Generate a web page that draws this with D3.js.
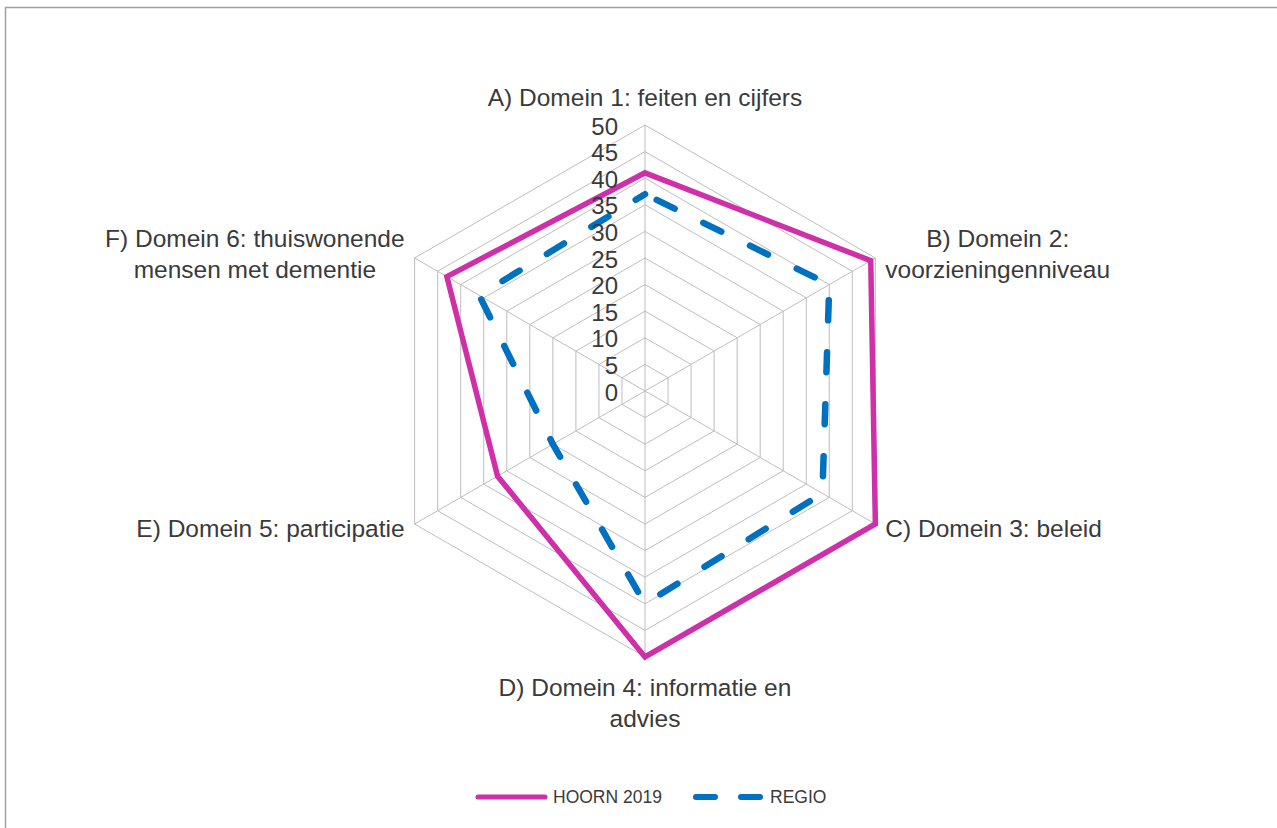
<!DOCTYPE html>
<html>
<head>
<meta charset="utf-8">
<script src="https://cdn.jsdelivr.net/npm/d3@7"></script>
<style>
  body { margin: 0; background: #fff; }
  svg { display: block; }
  text { font-family: "Liberation Sans", Arial, sans-serif; fill: #3a3a3a; }
</style>
</head>
<body>
<svg id="chart" width="1277" height="828"></svg>
<script>
// data
var categories = [
  ["A) Domein 1: feiten en cijfers"],
  ["B) Domein 2:", "voorzieningenniveau"],
  ["C) Domein 3: beleid"],
  ["D) Domein 4: informatie en", "advies"],
  ["E) Domein 5: participatie"],
  ["F) Domein 6: thuiswonende", "mensen met dementie"]
];
var hoorn = [41, 49, 50, 50, 32, 43];
var regio = [37, 40, 38.5, 40, 20, 36];
var tickValues = [0, 5, 10, 15, 20, 25, 30, 35, 40, 45, 50];
var seriesNames = ["HOORN 2019", "REGIO"];

var cx = 645, cy = 391, R = 266;
var magenta = "#CF2FA9", blue = "#0070C0";

var svg = d3.select("#chart");

// frame (only top and left edge visible in the original)
svg.append("rect")
  .attr("x", 5.5).attr("y", 7.5)
  .attr("width", 1300).attr("height", 900)
  .attr("fill", "none")
  .attr("stroke", "#a0a0a0")
  .attr("stroke-width", 1.5);

var r = d3.scaleLinear().domain([0, 50]).range([0, R]);
var n = categories.length;
var angle = function (i) { return i * 2 * Math.PI / n; };
var px = function (i, v) { return cx + r(v) * Math.sin(angle(i)); };
var py = function (i, v) { return cy - r(v) * Math.cos(angle(i)); };

var g = svg.append("g");

// grid rings
var ring = d3.lineRadial()
  .angle(function (d, i) { return angle(i); })
  .radius(function (d) { return r(d); })
  .curve(d3.curveLinearClosed);

g.selectAll(".ring")
  .data(tickValues.slice(1))
  .enter().append("path")
  .attr("class", "ring")
  .attr("transform", "translate(" + cx + "," + cy + ")")
  .attr("d", function (t) { return ring(d3.range(n).map(function () { return t; })); })
  .attr("fill", "none")
  .attr("stroke", "#bdbdbd")
  .attr("stroke-width", 1);

// spokes
g.selectAll(".spoke")
  .data(d3.range(n))
  .enter().append("line")
  .attr("x1", cx).attr("y1", cy)
  .attr("x2", function (i) { return px(i, 50); })
  .attr("y2", function (i) { return py(i, 50); })
  .attr("stroke", "#bdbdbd")
  .attr("stroke-width", 1);

// series
var seriesLine = d3.lineRadial()
  .angle(function (d, i) { return angle(i); })
  .radius(function (d) { return r(d); })
  .curve(d3.curveLinearClosed);

g.append("path")
  .attr("transform", "translate(" + cx + "," + cy + ")")
  .attr("d", seriesLine(regio))
  .attr("fill", "none")
  .attr("stroke", blue)
  .attr("stroke-width", 6.5)
  .attr("stroke-linecap", "round")
  .attr("stroke-linejoin", "round")
  .attr("stroke-dasharray", "20 32")
  .attr("stroke-dashoffset", 39);

g.append("path")
  .attr("transform", "translate(" + cx + "," + cy + ")")
  .attr("d", seriesLine(hoorn))
  .attr("fill", "none")
  .attr("stroke", magenta)
  .attr("stroke-width", 5.5)
  .attr("stroke-linejoin", "miter");

// tick labels
g.selectAll(".tick")
  .data(tickValues)
  .enter().append("text")
  .attr("x", cx - 27)
  .attr("y", function (t) { return cy - r(t) + 9.5; })
  .attr("text-anchor", "end")
  .style("font-size", "24px")
  .text(function (t) { return t; });

// category labels
var lineH = 31;
categories.forEach(function (lines, i) {
  var s = Math.sin(angle(i)), c = Math.cos(angle(i));
  var vx = px(i, 50), vy = py(i, 50);
  var lab = g.append("g");
  var texts = lines.map(function (l) {
    return lab.append("text").style("font-size", "24.5px").text(l);
  });
  var widths = texts.map(function (t) { return t.node().getComputedTextLength(); });
  var blockW = d3.max(widths);
  var firstY, centerX;
  if (Math.abs(s) < 0.1) {
    centerX = vx;
    if (c > 0) firstY = vy - 19 - (lines.length - 1) * lineH;
    else firstY = vy + 39;
  } else {
    centerX = s > 0 ? vx + 10 + blockW / 2 : vx - 10 - blockW / 2;
    firstY = vy + 13 - (lines.length - 1) * 24;
  }
  texts.forEach(function (t, k) {
    t.attr("x", centerX).attr("y", firstY + k * lineH).attr("text-anchor", "middle");
  });
});

// legend
var leg = svg.append("g");
leg.append("line")
  .attr("x1", 478).attr("x2", 545).attr("y1", 797).attr("y2", 797)
  .attr("stroke", magenta).attr("stroke-width", 5).attr("stroke-linecap", "round");
leg.append("text").attr("x", 553).attr("y", 803).style("font-size", "17.5px").text(seriesNames[0]);
leg.append("line")
  .attr("x1", 696).attr("x2", 761).attr("y1", 797).attr("y2", 797)
  .attr("stroke", blue).attr("stroke-width", 6).attr("stroke-linecap", "round")
  .attr("stroke-dasharray", "19 26");
leg.append("text").attr("x", 770).attr("y", 803).style("font-size", "17.5px").text(seriesNames[1]);
</script>
</body>
</html>
